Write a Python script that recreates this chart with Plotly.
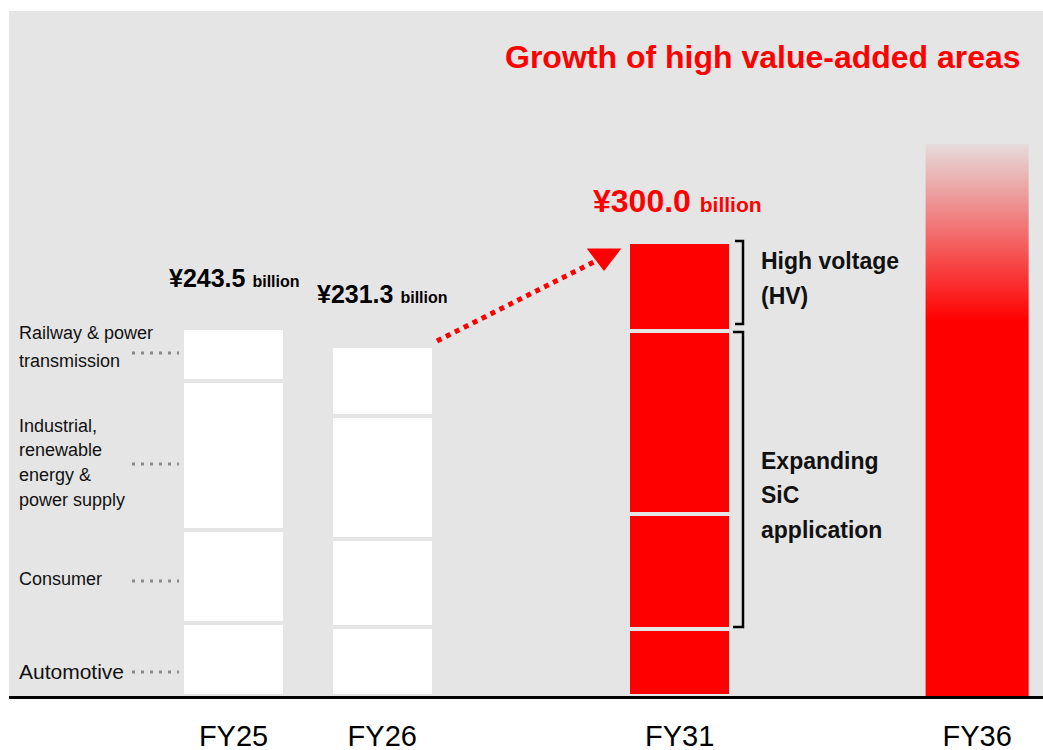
import plotly.graph_objects as go

# ---------------- data ----------------
years = ["FY25", "FY26", "FY31", "FY36"]
totals = [243.5, 231.3, 300.0]            # ¥ billion, labelled
automotive = [48.0, 45.3, 44.0]
consumer = [61.5, 58.2, 76.5]
industrial = [98.5, 81.3, 120.5]
top_segment = [35.5, 46.5, 59.0]          # Railway & power transmission / High voltage (HV)
fy36_total = 365.0                         # unlabelled outlook bar (estimated)
fy36_solid = 248.0                         # fully saturated part before the fade
total_labels = ["¥243.5", "¥231.3", "¥300.0"]
segment_labels = [
    ["Automotive"],
    ["Consumer"],
    ["Industrial,", "renewable", "energy &", "power supply"],
    ["Railway & power", "transmission"],
]
bracket_labels = [["High voltage", "(HV)"], ["Expanding", "SiC", "application"]]
title_text = "Growth of high value-added areas"

# ---------------- style / layout ----------------
FONT = "Liberation Sans, Arial, sans-serif"
BG = "#e5e5e5"
RED = "#ff0000"
W, H = 1043, 750
ML, MR, MT, MB = 9, 0, 11, 54
XR = [-1.51, 5.443]
YR = [0, 452.7]
UX = (W - ML - MR) / (XR[1] - XR[0])
UY = (H - MT - MB) / (YR[1] - YR[0])
BASE = H - MB
xpos = [0, 1, 3, 5]
bar_w = 0.69


def px2x(px):
    return XR[0] + (px - ML) / UX


def py2y(py):
    return (BASE - py) / UY


fig = go.Figure()

bar_colors = ["white", "white", RED]
for vals in [automotive, consumer, industrial, top_segment]:
    fig.add_bar(
        x=xpos[:3], y=vals, width=bar_w,
        marker=dict(color=bar_colors, line=dict(color=BG, width=4.5)),
        showlegend=False, hoverinfo="skip",
    )

# FY36 gradient bar
hw = 0.3465
fig.add_scatter(
    x=[xpos[3] - hw, xpos[3] + hw, xpos[3] + hw, xpos[3] - hw, xpos[3] - hw],
    y=[0, 0, fy36_total, fy36_total, 0],
    mode="lines", fill="toself", line=dict(width=0, color="rgba(0,0,0,0)"),
    fillgradient=dict(
        type="vertical",
        colorscale=[[0, RED], [fy36_solid / fy36_total, RED], [1, "rgba(255,0,0,0.04)"]],
        start=0, stop=fy36_total,
    ),
    showlegend=False, hoverinfo="skip",
)

# arrow head
fig.add_scatter(
    x=[px2x(604)], y=[py2y(256)], mode="markers",
    marker=dict(symbol="triangle-down", size=30, color=RED),
    showlegend=False, hoverinfo="skip",
)

shapes = []
# dotted arrow line
shapes.append(dict(type="line", xref="x", yref="y",
                   x0=px2x(437), y0=py2y(341), x1=px2x(594), y1=py2y(262),
                   line=dict(color=RED, width=5, dash="5px,5px")))
# leader dots
for py in [672, 581, 464, 353]:
    shapes.append(dict(type="line", xref="x", yref="y",
                       x0=px2x(132), x1=px2x(179), y0=py2y(py), y1=py2y(py),
                       line=dict(color="#8a8a8a", width=3, dash="3px,6px")))
# brackets
for (xa, xb, ya, yb) in [(735, 743, 241, 324), (733, 743, 332, 627)]:
    path = (f"M{px2x(xa)},{py2y(ya)} L{px2x(xb)},{py2y(ya)} "
            f"L{px2x(xb)},{py2y(yb)} L{px2x(xa)},{py2y(yb)}")
    shapes.append(dict(type="path", xref="x", yref="y", path=path,
                       line=dict(color="black", width=2.5)))

ann = []
# title
ann.append(dict(x=px2x(1023), y=py2y(57), xref="x", yref="y", xanchor="right", yanchor="middle",
                text=f"<b>{title_text}</b>", showarrow=False,
                font=dict(family=FONT, size=32, color=RED)))
# value labels
val_pos = [(234, 278, 25, 16, "black"), (382, 294, 25, 16, "black"), (677, 201, 32, 21, RED)]
for i, (cx, cy, big, small, col) in enumerate(val_pos):
    ann.append(dict(x=px2x(cx), y=py2y(cy), xref="x", yref="y", xanchor="center", yanchor="middle",
                    text=f"<b>{total_labels[i]}</b> <b><span style='font-size:{small}px'>billion</span></b>",
                    showarrow=False, font=dict(family=FONT, size=big, color=col)))
# segment labels (left)
seg_line_y = [[671], [579], [426, 450, 475, 500], [333, 361]]
seg_size = [21, 18, 18, 18]
for lines, ys, sz in zip(segment_labels, seg_line_y, seg_size):
    for t, py in zip(lines, ys):
        ann.append(dict(x=px2x(17), y=py2y(py), xref="x", yref="y", xanchor="left", yanchor="middle",
                        text=t, showarrow=False, font=dict(family=FONT, size=sz, color="#111111")))
# bracket labels
br_line_y = [[261, 296], [461, 495, 530]]
for lines, ys in zip(bracket_labels, br_line_y):
    for t, py in zip(lines, ys):
        ann.append(dict(x=px2x(759), y=py2y(py), xref="x", yref="y", xanchor="left", yanchor="middle",
                        text=f"<b>{t}</b>", showarrow=False,
                        font=dict(family=FONT, size=23, color="#111111")))

fig.update_layout(
    width=W, height=H, barmode="stack", bargap=0,
    margin=dict(l=ML, r=MR, t=MT, b=MB, pad=0, autoexpand=False),
    paper_bgcolor="white", plot_bgcolor=BG,
    shapes=shapes, annotations=ann, hovermode=False,
    xaxis=dict(range=XR, tickvals=xpos, ticktext=years, showgrid=False, zeroline=False,
               showline=True, linecolor="black", linewidth=2.5, ticks="",
               ticklabelstandoff=12, automargin=False,
               tickfont=dict(family=FONT, size=29, color="black"), fixedrange=True),
    yaxis=dict(range=YR, visible=False, showgrid=False, zeroline=False, fixedrange=True,
               automargin=False),
)

fig.write_html(
    "out.html",
    config={"displayModeBar": False},
    post_script="document.body.style.margin='0';document.body.style.overflow='hidden';",
)
